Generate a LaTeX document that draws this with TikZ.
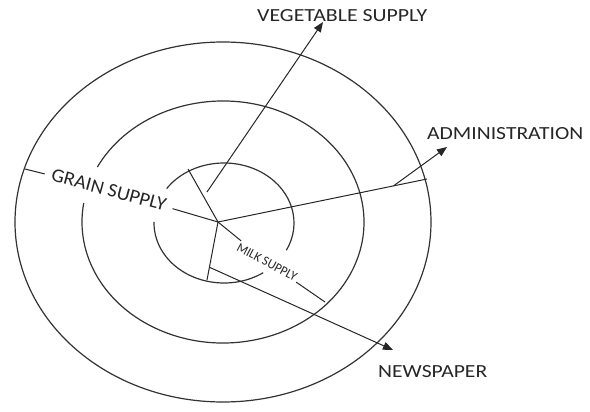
\documentclass[tikz,border=0pt]{standalone}
\usepackage{fontspec}
\setmainfont{Carlito}
\usetikzlibrary{arrows.meta,calc}
\newcommand{\fitlabel}[3]{\resizebox{#1pt}{#2pt}{#3}}

\begin{document}
\begin{tikzpicture}[%
  x=1pt, y=-1pt,
  ring/.style={line width=1.2pt, draw=black!80},
  spoke/.style={line width=1pt, draw=black!85},
  pointer/.style={spoke, -{Triangle[length=10pt,width=8pt]}},
  place/.style={text=black!85, inner sep=0pt},
  tag/.style={place, inner xsep=7pt, inner ysep=2pt}]
  \useasboundingbox (0,0) rectangle (590,412);
  % rings
  \draw[ring] (223,222) ellipse [x radius=208, y radius=180];
  \draw[ring] ([shift={(207:141 and 121)}]223,222)
    arc[start angle=207, end angle=549, x radius=141, y radius=121];
  \draw[ring] ([shift={(56:70 and 60)}]224,223)
    arc[start angle=56, end angle=181, x radius=70, y radius=60];
  \draw[ring] ([shift={(215:70 and 60)}]224,223)
    arc[start angle=215, end angle=387, x radius=70, y radius=60];
  % labels
  \coordinate (hub) at (218,222);
  \node[tag, rotate=-15] (grain) at (109,190) {\fitlabel{118}{12.5}{GRAIN SUPPLY}};
  \node[tag, rotate=-28, inner sep=2pt] (milk) at (267,262) {\fitlabel{66}{8.5}{MILK SUPPLY}};
  \node[place, anchor=south west] (veg) at (257,22) {\fitlabel{170}{12}{VEGETABLE SUPPLY}};
  \node[place, anchor=south west] (admin) at (427,140) {\fitlabel{156}{12}{ADMINISTRATION}};
  \node[place, anchor=south west] (news) at (378,378) {\fitlabel{109}{12}{NEWSPAPER}};
  \coordinate (top) at (188,169);
  \coordinate (bottom) at (207,280);
  \coordinate (grainend) at (25,169);
  \coordinate (milkend) at (325,302);
  \coordinate (adminend) at (427,179);
  \coordinate (adminfork) at ($(hub)!0.84!(adminend)$);
  \coordinate (admintip) at (447,147);
  \coordinate (vegfoot) at (207,192);
  \coordinate (vegtip) at (323,22);
  \coordinate (newsfoot) at ($(hub)!0.78!(bottom)$);
  \coordinate (newstip) at (393,350);
  % spokes
  \draw[spoke] (hub) -- (top);
  \draw[spoke] (hub) -- (bottom);
  \draw[spoke] (hub) -- (grain) (grain) -- (grainend);
  \draw[spoke] (hub) -- (milk) (milk) -- (milkend);
  \draw[spoke] (hub) -- (adminend);
  \draw[pointer] (adminfork) -- (admintip);
  \draw[pointer] (vegfoot) -- (vegtip);
  \draw[pointer] (newsfoot) -- (newstip);
\end{tikzpicture}
\end{document}
